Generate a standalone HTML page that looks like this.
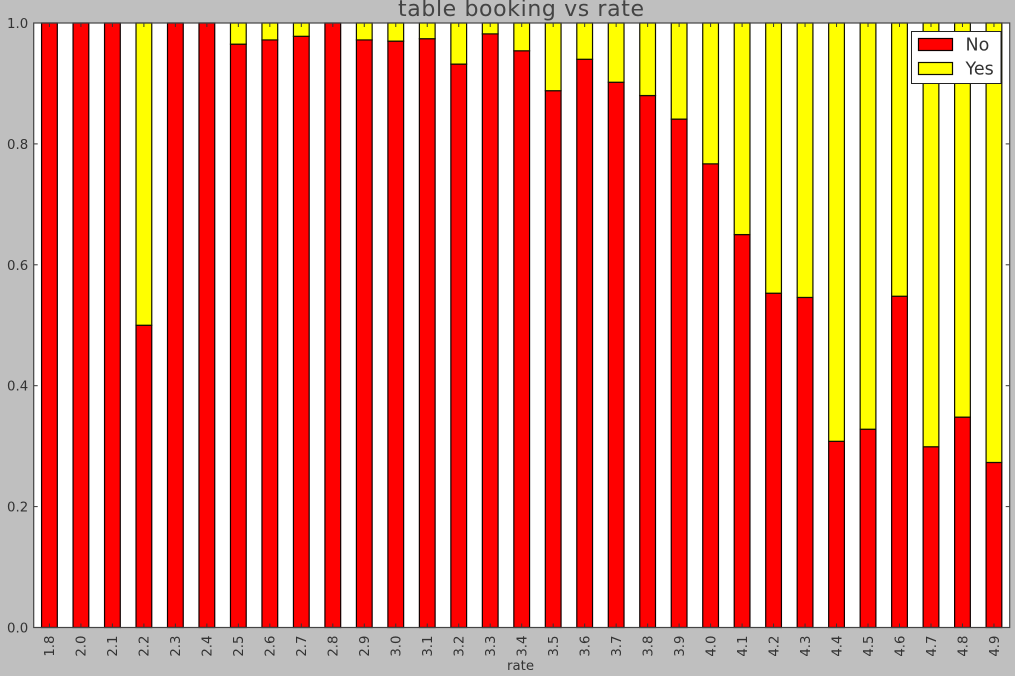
<!DOCTYPE html>
<html>
<head>
<meta charset="utf-8">
<title>table booking vs rate</title>
<style>
html,body{margin:0;padding:0;background:#bfbfbf;overflow:hidden;}
svg{display:block;font-family:"DejaVu Sans","Liberation Sans",sans-serif;filter:blur(0.3px);}
</style>
</head>
<body>
<svg id="chart" xmlns="http://www.w3.org/2000/svg" width="1015" height="676" viewBox="0 0 1015 676"></svg>
<script>
const categories = ["1.8","2.0","2.1","2.2","2.3","2.4","2.5","2.6","2.7","2.8","2.9","3.0","3.1","3.2","3.3","3.4","3.5","3.6","3.7","3.8","3.9","4.0","4.1","4.2","4.3","4.4","4.5","4.6","4.7","4.8","4.9"];
const noValues = [1,1,1,0.5,1,1,0.965,0.972,0.978,1,0.972,0.97,0.974,0.932,0.982,0.954,0.888,0.94,0.902,0.88,0.841,0.767,0.65,0.553,0.546,0.308,0.328,0.548,0.299,0.348,0.273];
const yesValues = [0,0,0,0.5,0,0,0.035,0.028,0.022,0,0.028,0.03,0.026,0.068,0.018,0.046,0.112,0.06,0.098,0.12,0.159,0.233,0.35,0.447,0.454,0.692,0.672,0.452,0.701,0.652,0.727];
const yTickLabels = ["0.0","0.2","0.4","0.6","0.8","1.0"];
const yMax = 1;

const NS = "http://www.w3.org/2000/svg";
const svg = document.getElementById("chart");
const plotLeft = 33.7, plotRight = 1009.7, plotTop = 23, plotBottom = 627.5;
const textColor = "#333";
const step = (plotRight - plotLeft) / categories.length;
const barW = step * 0.5;
function xCenter(i){ return plotLeft + step * (i + 0.5); }
function yPos(v){ return plotBottom - (v / yMax) * (plotBottom - plotTop); }
function make(tag, attrs, parent, text){
  const el = document.createElementNS(NS, tag);
  for (const k in attrs) el.setAttribute(k, attrs[k]);
  if (text !== undefined) el.textContent = text;
  (parent || svg).appendChild(el);
  return el;
}

const plotBg = make("rect", {x:plotLeft, y:plotTop, width:plotRight-plotLeft, height:plotBottom-plotTop, fill:"#fff"});



categories.forEach(function(cat, i){
  const x = xCenter(i) - barW / 2;
  const no = noValues[i], yes = yesValues[i];
  const barNo = make("rect", {x:x, y:yPos(no), width:barW, height:yPos(0)-yPos(no), fill:"#ff0000", stroke:"#100000", "stroke-width":1.2});
  
  
  if (yes > 0) {
    const barYes = make("rect", {x:x, y:yPos(no+yes), width:barW, height:yPos(no)-yPos(no+yes), fill:"#ffff00", stroke:"#111100", "stroke-width":1.2});
    
    
  }
  const tickB = make("line", {x1:xCenter(i), x2:xCenter(i), y1:plotBottom, y2:plotBottom-4, stroke:"#333", "stroke-width":1});
  
  
  const tickT = make("line", {x1:xCenter(i), x2:xCenter(i), y1:plotTop, y2:plotTop+4, stroke:"#333", "stroke-width":1});
  
  
  const lx = xCenter(i) + 4.8, ly = plotBottom + 8;
  const lab = make("text", {x:lx, y:ly, "font-size":13.3, fill:textColor, "text-anchor":"end", transform:"rotate(-90 "+lx+" "+ly+")"}, svg, cat);
  
  
});

yTickLabels.forEach(function(t){
  const v = parseFloat(t);
  const y = yPos(v);
  const tl = make("line", {x1:plotLeft, x2:plotLeft+4, y1:y, y2:y, stroke:"#333", "stroke-width":1});
  
  
  const tr = make("line", {x1:plotRight, x2:plotRight-4, y1:y, y2:y, stroke:"#333", "stroke-width":1});
  
  
  const lab = make("text", {x:plotLeft-5.5, y:y+5, "font-size":13.3, fill:textColor, "text-anchor":"end"}, svg, t);
  
  
});

const frame = make("rect", {x:plotLeft, y:plotTop, width:plotRight-plotLeft, height:plotBottom-plotTop, fill:"none", stroke:"#444", "stroke-width":1.2});



const title = make("text", {x:521, y:16, "font-size":22, fill:"#444", "text-anchor":"middle", textLength:246}, svg, "table booking vs rate");



const xTitle = make("text", {x:520.5, y:670, "font-size":13.3, fill:textColor, "text-anchor":"middle"}, svg, "rate");



const legend = make("g", {});


const legendBox = make("rect", {x:911.5, y:31.5, width:89.5, height:52, fill:"#fff", stroke:"#222", "stroke-width":1}, legend);


const swNo = make("rect", {x:918.5, y:38.5, width:34, height:12, fill:"#ff0000", stroke:"#100000", "stroke-width":1.2}, legend);


const txNo = make("text", {x:965.5, y:50.5, "font-size":17.5, fill:textColor}, legend, "No");


const swYes = make("rect", {x:918.5, y:62.5, width:34, height:12, fill:"#ffff00", stroke:"#111100", "stroke-width":1.2}, legend);


const txYes = make("text", {x:965.5, y:74.5, "font-size":17.5, fill:textColor}, legend, "Yes");


</script>
</body>
</html>
